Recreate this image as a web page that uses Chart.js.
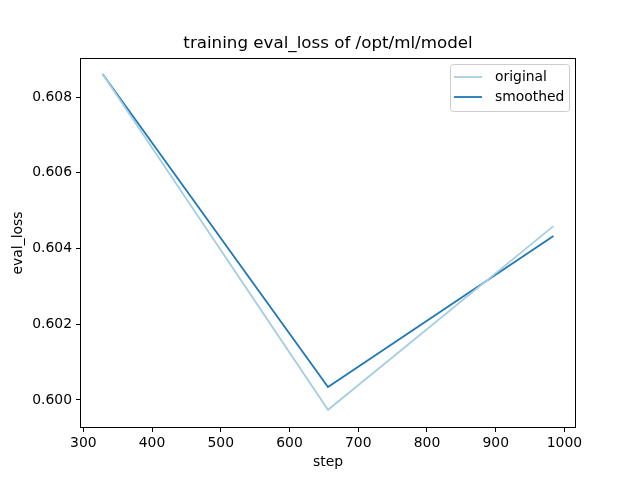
<!DOCTYPE html>
<html>
<head>
<meta charset="utf-8">
<script src="https://cdn.jsdelivr.net/npm/chart.js@4.4.0/dist/chart.umd.min.js"></script>
<style>
  html, body { margin: 0; padding: 0; background: #fff; }
  #wrap { width: 640px; height: 480px; }
</style>
</head>
<body>
<div id="wrap"><canvas id="myChart" width="640" height="480"></canvas></div>
<script>
// data
const steps = [328, 656, 984];
const original = [0.60861, 0.59974, 0.60459];
const smoothed = [0.60861, 0.60034, 0.60433];
const xTicks = [300, 400, 500, 600, 700, 800, 900, 1000];
const yTicks = [0.600, 0.602, 0.604, 0.606, 0.608];
const seriesNames = ['original', 'smoothed'];
const seriesColors = ['#a6cee3', '#1f78b4'];

const FONT = '"DejaVu Sans", sans-serif';

// frame, title, axis titles, legend (matplotlib look)
const mplDecor = {
    id: 'mplDecor',
    afterDraw(chart) {
        const c = chart.ctx;
        const a = chart.chartArea;
        c.save();
        c.strokeStyle = '#000';
        c.lineWidth = 1;
        c.strokeRect(Math.round(a.left) + 0.5, Math.round(a.top) + 0.5,
                     Math.round(a.right - a.left) - 1, Math.round(a.bottom - a.top) - 1);

        c.fillStyle = '#000';
        c.textAlign = 'center';
        c.textBaseline = 'middle';
        c.font = '16.7px ' + FONT;
        c.fillText('training eval_loss of /opt/ml/model', (a.left + a.right) / 2, 44);

        c.font = '13.9px ' + FONT;
        c.fillText('step', (a.left + a.right) / 2, 462);
        c.save();
        c.translate(18, (a.top + a.bottom) / 2);
        c.rotate(-Math.PI / 2);
        c.fillText('eval_loss', 0, 0);
        c.restore();

        // legend box
        const bx = 450.5, by = 64.5, bw = 119, bh = 47, r = 3;
        c.beginPath();
        c.moveTo(bx + r, by);
        c.arcTo(bx + bw, by, bx + bw, by + bh, r);
        c.arcTo(bx + bw, by + bh, bx, by + bh, r);
        c.arcTo(bx, by + bh, bx, by, r);
        c.arcTo(bx, by, bx + bw, by, r);
        c.closePath();
        c.fillStyle = 'rgba(255,255,255,0.8)';
        c.fill();
        c.strokeStyle = '#cccccc';
        c.stroke();

        c.textAlign = 'left';
        c.lineWidth = 1.8;
        for (let i = 0; i < seriesNames.length; i++) {
            const y = 77 + i * 20;
            c.strokeStyle = seriesColors[i];
            c.beginPath();
            c.moveTo(454, y);
            c.lineTo(482, y);
            c.stroke();
            c.fillStyle = '#000';
            c.fillText(seriesNames[i], 495, y);
        }
        c.restore();
    }
};

const ctx = document.getElementById('myChart');
new Chart(ctx, {
    type: 'line',
    data: {
        datasets: seriesNames.map((name, i) => ({
            label: name,
            data: steps.map((s, j) => ({ x: s, y: (i === 0 ? original : smoothed)[j] })),
            borderColor: seriesColors[i],
            borderWidth: 1.8,
            pointRadius: 0,
            fill: false,
            tension: 0
        }))
    },
    options: {
        responsive: false,
        animation: false,
        devicePixelRatio: 1,
        layout: { padding: { top: 58, right: 64, left: 0, bottom: 0 } },
        plugins: {
            legend: { display: false },
            title: { display: false },
            tooltip: { enabled: false }
        },
        scales: {
            x: {
                type: 'linear',
                min: 295.2,
                max: 1016.8,
                afterBuildTicks: s => { s.ticks = xTicks.map(v => ({ value: v })); },
                afterFit: s => { s.height = 52; },
                grid: { drawOnChartArea: false, tickLength: 4, tickColor: '#000' },
                border: { display: false },
                ticks: {
                    color: '#000',
                    padding: 3,
                    maxRotation: 0,
                    autoSkip: false,
                    font: { family: FONT, size: 13.9 },
                    callback: v => String(v)
                }
            },
            y: {
                type: 'linear',
                min: 0.59926,
                max: 0.60903,
                afterBuildTicks: s => { s.ticks = yTicks.map(v => ({ value: v })); },
                afterFit: s => { s.width = 80; },
                grid: { drawOnChartArea: false, tickLength: 4, tickColor: '#000' },
                border: { display: false },
                ticks: {
                    color: '#000',
                    padding: 4,
                    autoSkip: false,
                    font: { family: FONT, size: 13.9 },
                    callback: v => v.toFixed(3)
                }
            }
        }
    },
    plugins: [mplDecor]
});
</script>
</body>
</html>
